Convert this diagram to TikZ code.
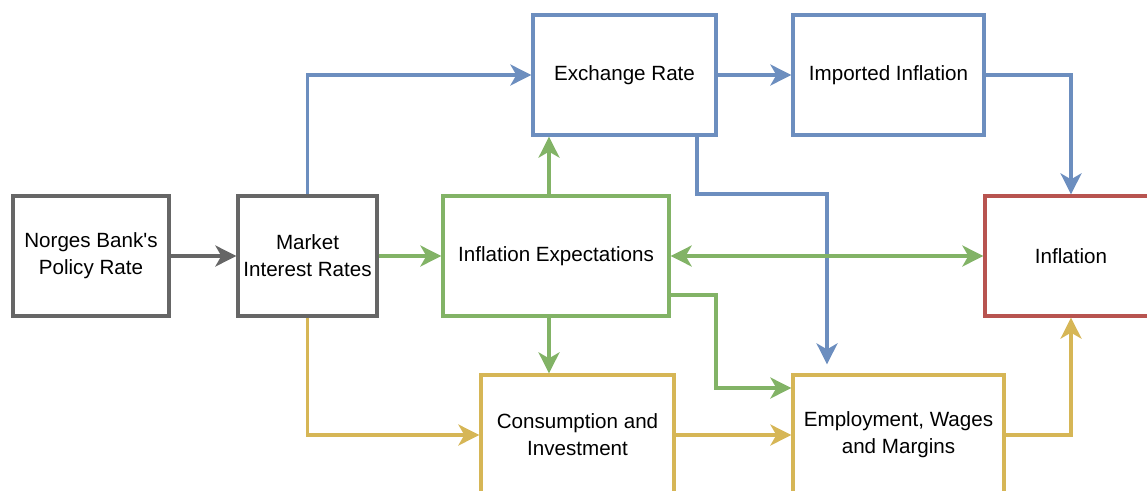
\documentclass[tikz,border=0pt]{standalone}
\usepackage{fontspec}
\setmainfont{Liberation Sans}
\usetikzlibrary{arrows.meta}

\definecolor{linkgray}{HTML}{666666}
\definecolor{linkblue}{HTML}{6C8EBF}
\definecolor{linkgreen}{HTML}{82B366}
\definecolor{linkyellow}{HTML}{D6B656}
\definecolor{linkred}{HTML}{B85450}

\tikzset{
  box/.style      = {shape=rectangle, draw, line width=3.3pt, align=center,
                     minimum height=120pt, inner sep=0pt,
                     font=\fontsize{20.6}{27}\selectfont},
  policybox/.style = {box, draw=linkgray},
  ratebox/.style  = {box, draw=linkblue},
  expbox/.style   = {box, draw=linkgreen},
  realbox/.style  = {box, draw=linkyellow},
  goalbox/.style  = {box, draw=linkred},
  link/.style     = {line width=3.3pt,
                     -{Stealth[length=21pt,width=21pt,inset=6pt]}},
  twolink/.style  = {line width=3.3pt,
                     {Stealth[length=21pt,width=21pt,inset=6pt]}-{Stealth[length=21pt,width=21pt,inset=6pt]}}
}

\begin{document}
\begin{tikzpicture}[x=1pt, y=-1pt]
  \clip (0,0) rectangle (1147,490);

  % boxes
  \node [policybox, minimum width=156pt] (norges)   at (91,256)    {Norges Bank\textquotesingle s\\Policy Rate};
  \node [policybox, minimum width=139pt] (market)   at (307.5,256) {Market\\Interest Rates};
  \node [expbox,    minimum width=226pt] (expect)   at (556,256)   {Inflation Expectations};
  \node [ratebox,   minimum width=183pt] (exch)     at (624.5,75)  {Exchange Rate};
  \node [ratebox,   minimum width=191pt] (imported) at (888.5,75)  {Imported Inflation};
  \node [goalbox,   minimum width=172pt] (inflation) at (1071,256) {Inflation};
  \node [realbox,   minimum width=193pt] (consume)  at (577.5,435) {Consumption and\\Investment};
  \node [realbox,   minimum width=211pt] (employ)   at (898.5,435) {Employment, Wages\\and Margins};

  % bend points
  \coordinate (upx)     at (549,0);
  \coordinate (exbend)  at (697,194);
  \coordinate (emx)     at (827,0);
  \coordinate (gcorner) at (716,388);

  % blue links
  \draw [link, linkblue] (market.north) |- (exch.west);
  \draw [link, linkblue] (exch) -- (imported);
  \draw [link, linkblue] (imported.east) -| (inflation.north);
  \draw [link, linkblue, shorten >=9pt] (exch.south -| exbend) -- (exbend)
        -| (employ.north -| emx);

  % yellow links
  \draw [link, linkyellow] (market.south) |- (consume.west);
  \draw [link, linkyellow] (consume) -- (employ);
  \draw [link, linkyellow] (employ.east) -| (inflation.south);

  % green links
  \draw [link, linkgreen] (market) -- (expect);
  \draw [link, linkgreen] (expect.north -| upx) -- (exch.south -| upx);
  \draw [link, linkgreen] (expect.south -| upx) -- (consume.north -| upx);
  \draw [link, linkgreen] ([yshift=-39pt]expect.east) -| (gcorner)
        -- (gcorner -| employ.west);
  \draw [twolink, linkgreen] (expect) -- (inflation);

  % gray link
  \draw [link, linkgray] (norges) -- (market);
\end{tikzpicture}
\end{document}
